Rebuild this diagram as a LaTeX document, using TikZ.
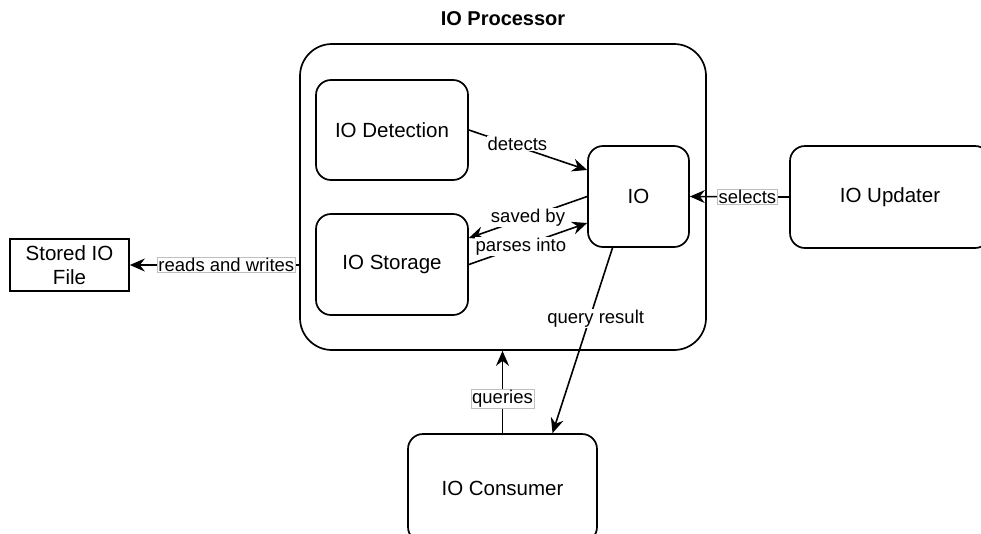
\documentclass[tikz,border=0pt]{standalone}
\usepackage{fontspec}
\setmainfont{Liberation Sans}
\usetikzlibrary{arrows.meta,calc}

\tikzset{
  block/.style={draw, line width=1.7pt, rounded corners=15pt, align=center,
    inner sep=0pt, font=\fontsize{20.5}{24}\selectfont},
  plainbox/.style={draw, line width=1.7pt, align=center, inner sep=0pt,
    font=\fontsize{20.5}{24}\selectfont},
  conn/.style={line width=1.6pt, -{Stealth[length=15pt,width=13pt,inset=5pt]}},
  lbl/.style={fill=white, inner sep=1pt, font=\fontsize{18.5}{22}\selectfont},
  boxlbl/.style={lbl, draw=black!25, line width=0.6pt}
}

\begin{document}
\begin{tikzpicture}[x=1pt,y=-1pt]
  \useasboundingbox (0,0) rectangle (981,533);
  \clip (0,0) rectangle (981,533);

  % processor group with its title
  \node[block, rounded corners=32pt, minimum width=406pt, minimum height=306pt]
    (proc) at (503,197) {};
  \node[font=\bfseries\fontsize{20}{24}\selectfont] (title) at (503,19) {IO Processor};

  % components inside the processor
  \node[block, minimum width=152pt, minimum height=100pt] (det) at (392,130) {IO Detection};
  \node[block, minimum width=152pt, minimum height=101pt] (sto) at (392,264.5) {IO Storage};
  \node[block, minimum width=101pt, minimum height=101pt] (io) at (638.5,196.5) {IO};

  % outside actors
  \node[plainbox, minimum width=119pt, minimum height=52pt] (file) at (69.5,265) {Stored IO\\File};
  \node[block, minimum width=200pt, minimum height=102pt] (upd) at (890,197) {IO Updater};
  \node[block, minimum width=189pt, minimum height=108pt] (cons) at (502.5,488) {IO Consumer};

  % connectors
  \draw[conn] (det.east) -- node[lbl, pos=0.41, yshift=3pt] {detects} ([yshift=26.5pt]io.west);
  \draw[conn] (io.west) -- node[lbl, pos=0.5] {saved by} ([yshift=26.5pt]sto.east);
  \draw[conn] (sto.east) -- node[lbl, pos=0.44] {parses into} ([yshift=-26.5pt]io.west);
  \draw[conn] (file.east -| proc.west) -- node[boxlbl, pos=0.43] {reads and writes} (file.east);
  \draw[conn] (upd.west) -- node[boxlbl, pos=0.42] {selects} (io.east);
  \draw[conn] (cons.north) -- node[boxlbl, pos=0.42] {queries} (cons.north |- proc.south);
  \draw[conn] ([xshift=-26pt]io.south) -- node[lbl, pos=0.38, xshift=6pt] {query result} ([xshift=50pt]cons.north);
\end{tikzpicture}
\end{document}
